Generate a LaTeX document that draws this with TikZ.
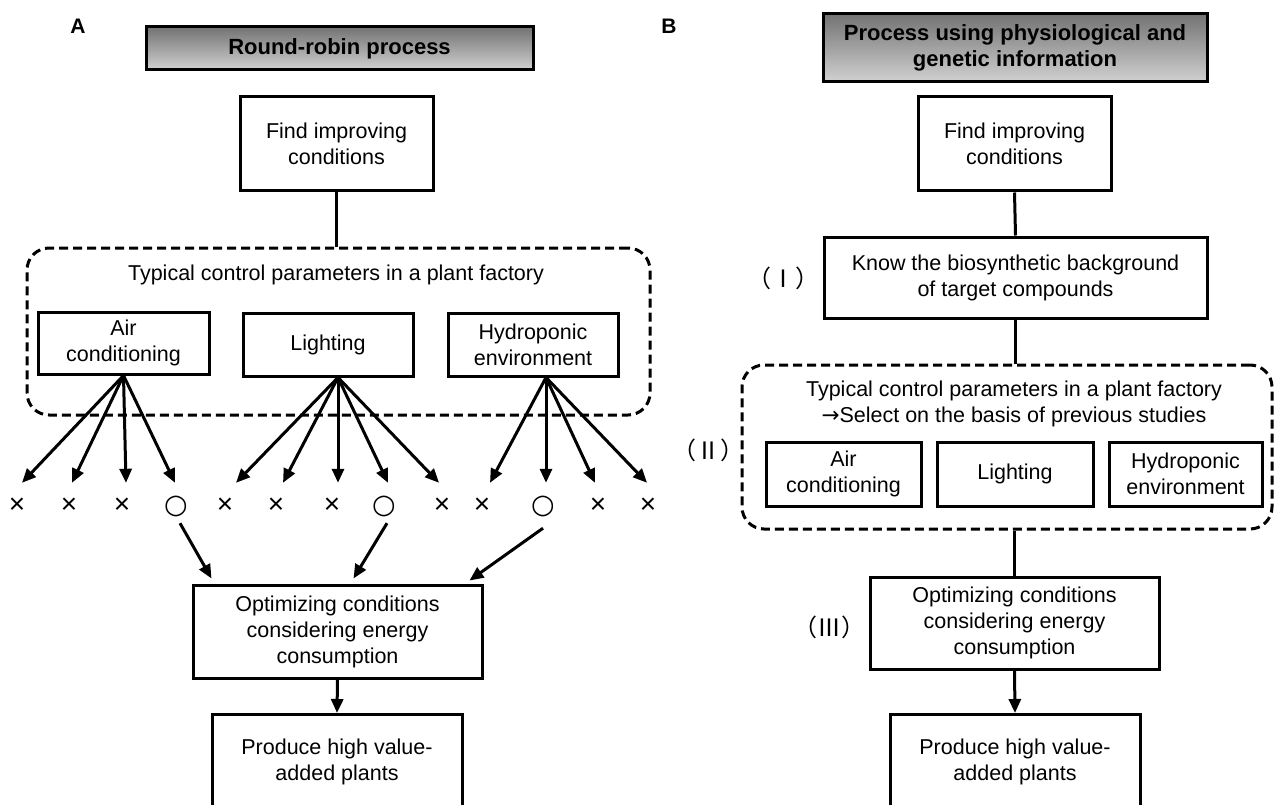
\documentclass[tikz,border=0pt]{standalone}
\usepackage{fontspec}
\setmainfont{Liberation Sans}
\newfontfamily\cjk{Noto Sans CJK JP}
\newfontfamily\symb{DejaVu Sans}
\usetikzlibrary{arrows.meta,calc}

\newcommand{\nomark}{{\fontsize{28}{28}\selectfont ×}}
\newcommand{\okmark}{{\symb\fontsize{27}{27}\selectfont ○}}

\tikzset{
    box/.style={draw, line width=3pt, align=center, inner sep=0pt, font=\fontsize{21.5}{26}\selectfont},
    titlebox/.style={box, top color=black!55, bottom color=black!18, font=\bfseries\fontsize{22}{26}\selectfont},
    group/.style={draw, line width=3pt, dash pattern=on 9pt off 5pt, rounded corners=22pt, inner sep=0pt},
    plain/.style={font=\fontsize{21.5}{26}\selectfont, align=center},
    panel/.style={font=\bfseries\fontsize{21}{24}\selectfont},
    roman/.style={font=\cjk\fontsize{24}{26}\selectfont},
    markbox/.style={inner sep=0pt, minimum height=46pt},
    arr/.style={line width=3pt, -{Triangle[length=14pt,width=12pt]}},
    link/.style={line width=3pt}
}

\begin{document}
\begin{tikzpicture}[x=1pt,y=-1pt]
    \useasboundingbox (0,0) rectangle (1274,805);

    % panel A: round-robin
    \node[panel] (labA) at (78,26) {A};
    \node[titlebox, minimum width=387pt, minimum height=43pt] (titleA) at (339.5,48.5) {Round-robin process};
    \node[box, minimum width=193pt, minimum height=94pt] (findA) at (336.5,144) {Find improving\\conditions};
    \node[group, minimum width=623pt, minimum height=167pt] (groupA) at (338.5,331.5) {};
    \node[plain, anchor=base] (paramA) at (336,280) {Typical control parameters in a plant factory};
    \node[box, minimum width=171pt, minimum height=62pt] (airA) at (123.5,343) {Air\\conditioning};
    \node[box, minimum width=170pt, minimum height=63pt] (lightA) at (328,344.5) {Lighting};
    \node[box, minimum width=170pt, minimum height=63pt] (hydroA) at (533,344.5) {Hydroponic\\environment};

    \foreach \i/\x/\s in {1/17/\nomark, 2/69/\nomark, 3/122/\nomark, 4/176/\okmark,
        5/225/\nomark, 6/276/\nomark, 7/332/\nomark, 8/384/\okmark, 9/442/\nomark,
        10/482/\nomark, 11/543/\okmark, 12/598/\nomark, 13/648/\nomark}
        \node[markbox] (m\i) at (\x,506) {\s};

    \foreach \m/\d in {1/5, 2/3, 3/4, 4/-1}
        \draw[arr] (airA.south) -- ([xshift=\d pt]m\m.north);
    \foreach \m/\d in {5/11, 6/7, 7/6, 8/4, 9/-3}
        \draw[arr] ([xshift=10pt]lightA.south) -- ([xshift=\d pt]m\m.north);
    \foreach \m/\d in {10/8, 11/3, 12/-3, 13/-1}
        \draw[arr] ([xshift=13pt]hydroA.south) -- ([xshift=\d pt]m\m.north);

    \node[box, minimum width=289pt, minimum height=93pt] (optA) at (337.5,631.5) {Optimizing conditions\\considering energy\\consumption};
    \node[box, minimum width=250pt, minimum height=95pt] (prodA) at (337,762) {Produce high value-\\added plants};

    \draw[link] (findA.south) -- (findA.south |- groupA.north);
    \draw[arr] ([xshift=4pt,yshift=6pt]m4.south) -- ([xshift=20pt,yshift=5pt]optA.north west);
    \draw[arr] ([xshift=3pt,yshift=6pt]m8.south) -- ([xshift=16pt,yshift=5pt]optA.north);
    \draw[arr] ([yshift=1pt]m11.south) -- ([xshift=-14pt,yshift=3pt]optA.north east);
    \draw[arr] (optA.south) -- (prodA.north);

    % panel B: physiological and genetic information
    \node[panel] (labB) at (669,26) {B};
    \node[titlebox, minimum width=384pt, minimum height=68pt] (titleB) at (1015,48) {Process using physiological and\\genetic information};
    \node[box, minimum width=193pt, minimum height=94pt] (findB) at (1014.5,144) {Find improving\\conditions};
    \node[box, minimum width=383pt, minimum height=81pt] (knowB) at (1015.5,277.5) {Know the biosynthetic background\\of target compounds};
    \node[roman] (r1) at (783,278) {（Ⅰ）};
    \node[group, minimum width=530pt, minimum height=164pt] (groupB) at (1007,447) {};
    \node[plain] (paramB) at (1014,404) {Typical control parameters in a plant factory\\{\symb →}Select on the basis of previous studies};
    \node[box, minimum width=155pt, minimum height=64pt] (airB) at (843.5,474) {Air\\conditioning};
    \node[box, minimum width=156pt, minimum height=64pt] (lightB) at (1015,474) {Lighting};
    \node[box, minimum width=153pt, minimum height=64pt] (hydroB) at (1185.5,474) {Hydroponic\\environment};
    \node[roman] (r2) at (708,450) {（Ⅱ）};
    \node[box, minimum width=289pt, minimum height=92pt] (optB) at (1014.5,623) {Optimizing conditions\\considering energy\\consumption};
    \node[roman] (r3) at (829,627) {（Ⅲ）};
    \node[box, minimum width=250pt, minimum height=95pt] (prodB) at (1015,762) {Produce high value-\\added plants};

    \draw[link] (findB.south) -- (knowB.north);
    \draw[link] (knowB.south) -- (knowB.south |- groupB.north);
    \draw[link] (optB.north |- groupB.south) -- (optB.north);
    \draw[arr] (optB.south) -- (prodB.north);
\end{tikzpicture}
\end{document}
